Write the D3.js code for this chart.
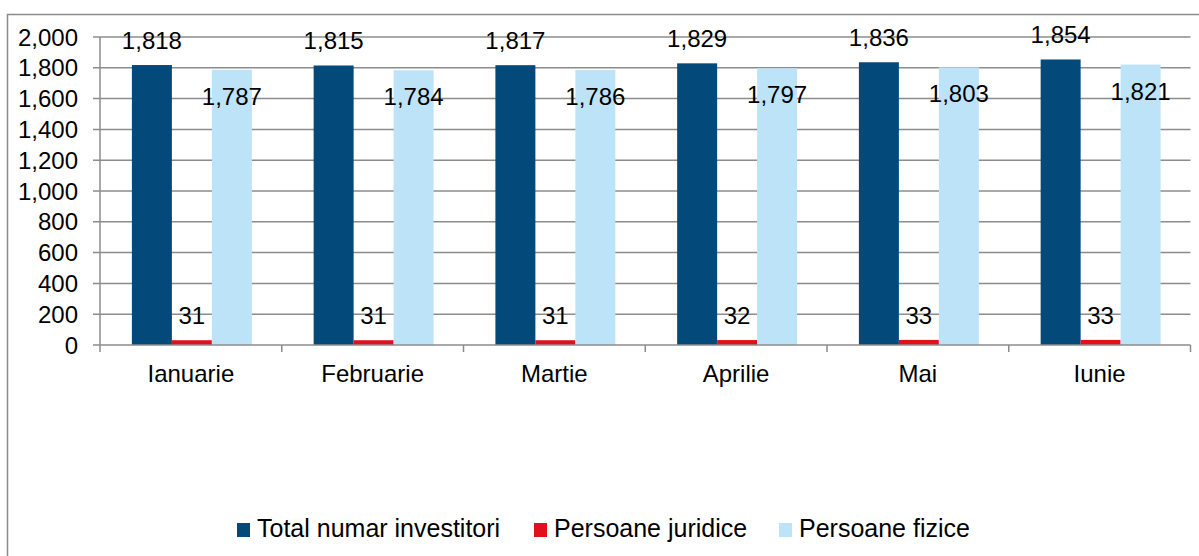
<!DOCTYPE html>
<html>
<head>
<meta charset="utf-8">
<script src="https://cdn.jsdelivr.net/npm/d3@7"></script>
<style>
  body { margin: 0; background: #fff; }
  text { font-family: "Liberation Sans", Arial, sans-serif; fill: #000; }
</style>
</head>
<body>
<svg id="chart" width="1199" height="556"></svg>
<script>
const months   = ["Ianuarie", "Februarie", "Martie", "Aprilie", "Mai", "Iunie"]
const total    = [1818, 1815, 1817, 1829, 1836, 1854]
const juridice = [31, 31, 31, 32, 33, 33]
const fizice   = [1787, 1784, 1786, 1797, 1803, 1821]
const seriesNames = ["Total numar investitori", "Persoane juridice", "Persoane fizice"]
const yTicks = [0, 200, 400, 600, 800, 1000, 1200, 1400, 1600, 1800, 2000]

const colors = ["#034a7b", "#e2101b", "#bde3f8"]
const series = [total, juridice, fizice]

const plot = { left: 100, right: 1190.5, top: 37, bottom: 345 }
const fmt = d3.format(",d")

const svg = d3.select("#chart")

// outer frame (runs off the right/bottom edge)
svg.append("rect")
  .attr("x", 7.5).attr("y", 14.5)
  .attr("width", 1200).attr("height", 560)
  .attr("fill", "none").attr("stroke", "#8c8c8c").attr("stroke-width", 1.5)

const y = d3.scaleLinear().domain([0, 2000]).range([plot.bottom, plot.top])

const x0 = d3.scaleBand().domain(months)
  .range([plot.left, plot.right])
  .paddingInner(0.34).paddingOuter(0.17)

const x1 = d3.scaleBand().domain(d3.range(3)).range([0, x0.bandwidth()])

// gridlines
svg.append("g")
  .selectAll("line")
  .data(yTicks.filter(d => d > 0))
  .join("line")
    .attr("x1", plot.left - 7).attr("x2", plot.right)
    .attr("y1", d => y(d)).attr("y2", d => y(d))
    .attr("stroke", "#8c8c8c").attr("stroke-width", 1.5)

// y tick labels
svg.append("g")
  .selectAll("text")
  .data(yTicks)
  .join("text")
    .attr("x", 78)
    .attr("y", d => y(d) + 8.5)
    .attr("text-anchor", "end")
    .style("font-size", "24px")
    .text(d => fmt(d))

// bars
const groups = svg.append("g")
  .selectAll("g")
  .data(months)
  .join("g")
    .attr("transform", d => `translate(${x0(d) + 1},0)`)

groups.selectAll("rect")
  .data((m, i) => series.map((s, k) => ({ k, v: s[i] })))
  .join("rect")
    .attr("x", d => x1(d.k))
    .attr("width", x1.bandwidth())
    .attr("y", d => y(d.v))
    .attr("height", d => y(0) - y(d.v))
    .attr("fill", d => colors[d.k])

// value labels: light-blue series label sits inside the bar
groups.selectAll("text")
  .data((m, i) => series.map((s, k) => ({ k, v: s[i] })))
  .join("text")
    .attr("x", d => x1(d.k) + x1.bandwidth() / 2)
    .attr("y", d => d.k === 2 ? y(d.v) + 35 : y(d.v) - 16)
    .attr("text-anchor", "middle")
    .style("font-size", "24px")
    .text(d => fmt(d.v))

// x axis line and category ticks
svg.append("line")
  .attr("x1", plot.left - 7).attr("x2", plot.right)
  .attr("y1", plot.bottom).attr("y2", plot.bottom)
  .attr("stroke", "#8c8c8c").attr("stroke-width", 1.5)

svg.append("line")
  .attr("x1", plot.left).attr("x2", plot.left)
  .attr("y1", plot.top).attr("y2", plot.bottom + 7)
  .attr("stroke", "#8c8c8c").attr("stroke-width", 1.5)

const step = x0.step()
svg.append("g")
  .selectAll("line")
  .data(d3.range(1, months.length + 1))
  .join("line")
    .attr("x1", i => plot.left + i * step).attr("x2", i => plot.left + i * step)
    .attr("y1", plot.bottom).attr("y2", plot.bottom + 7)
    .attr("stroke", "#8c8c8c").attr("stroke-width", 1.5)

svg.append("g")
  .selectAll("text")
  .data(months)
  .join("text")
    .attr("x", d => x0(d) + x0.bandwidth() / 2)
    .attr("y", 382)
    .attr("text-anchor", "middle")
    .style("font-size", "24px")
    .text(d => d)

// legend
const legendX = [237, 534, 779]
const legend = svg.append("g")
  .selectAll("g")
  .data(seriesNames)
  .join("g")
    .attr("transform", (d, i) => `translate(${legendX[i]},523)`)

legend.append("rect")
  .attr("width", 13).attr("height", 14)
  .attr("fill", (d, i) => colors[i])

legend.append("text")
  .attr("x", 20).attr("y", 14)
  .style("font-size", "25px")
  .text(d => d)
</script>
</body>
</html>
